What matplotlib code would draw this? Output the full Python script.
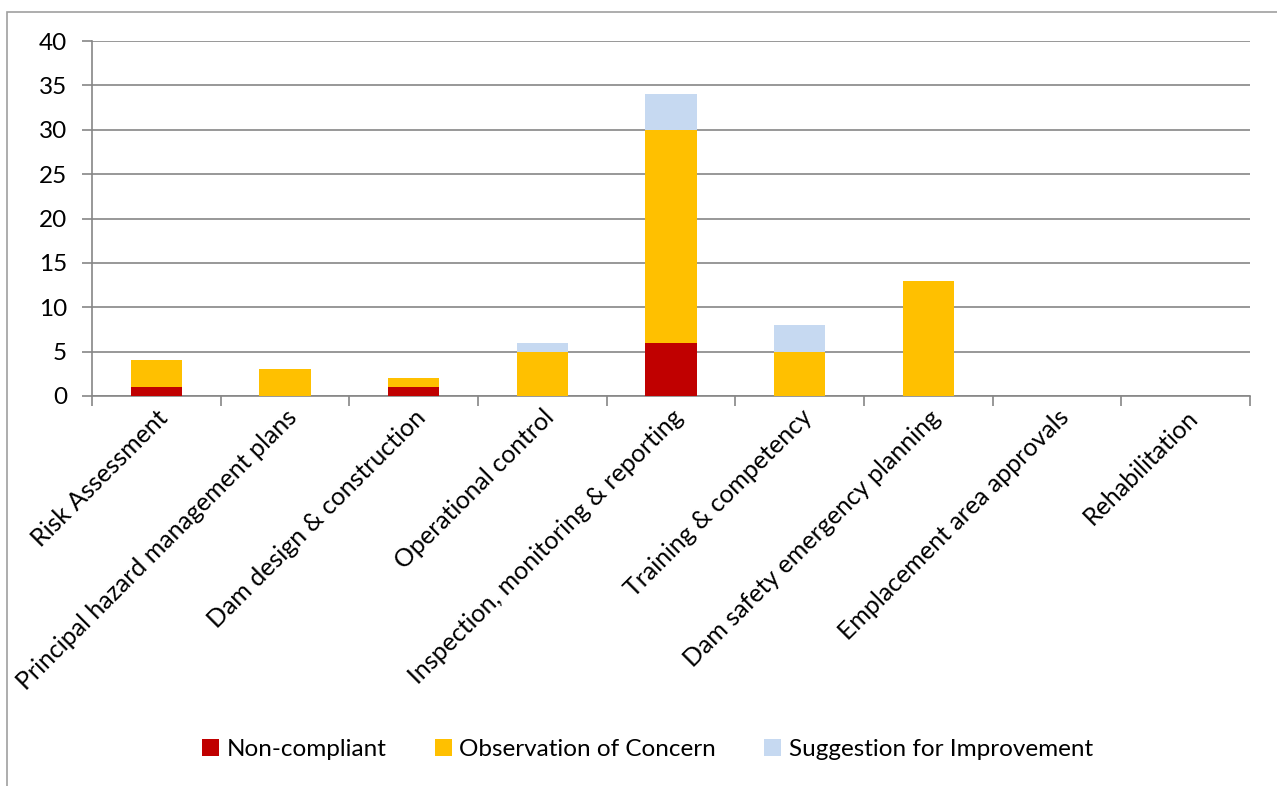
import matplotlib
matplotlib.use('Agg')
import matplotlib.pyplot as plt
import numpy as np
from matplotlib.patches import Rectangle

# data
categories = ['Risk Assessment', 'Principal hazard management plans',
              'Dam design & construction', 'Operational control',
              'Inspection, monitoring & reporting', 'Training & competency',
              'Dam safety emergency planning', 'Emplacement area approvals',
              'Rehabilitation']
non_compliant = [1, 0, 1, 0, 6, 0, 0, 0, 0]
observation = [3, 3, 1, 5, 24, 5, 13, 0, 0]
suggestion = [0, 0, 0, 1, 4, 3, 0, 0, 0]
series_names = ['Non-compliant', 'Observation of Concern', 'Suggestion for Improvement']
colors = ['#C00000', '#FFC000', '#C6D9F1']

plt.rcParams['font.family'] = ['Lato', 'DejaVu Sans']
grid_col = '#868686'

fig = plt.figure(figsize=(12.77, 7.86), dpi=100)
ax = fig.add_axes([0.072, 0.4962, 0.907, 0.4516])

# outer frame (chart area border, cut off right/bottom)
fig.patches.append(Rectangle((7 / 1277, -0.1), 1.2, (786 - 12) / 786 + 0.1,
                             transform=fig.transFigure, fill=False,
                             edgecolor='#A0A0A0', linewidth=1.2))

x = np.arange(len(categories))
bottom2 = np.array(non_compliant)
bottom3 = bottom2 + np.array(observation)
ax.bar(x, non_compliant, width=0.4, color=colors[0], label=series_names[0], zorder=3)
ax.bar(x, observation, width=0.4, bottom=bottom2, color=colors[1], label=series_names[1], zorder=3)
ax.bar(x, suggestion, width=0.4, bottom=bottom3, color=colors[2], label=series_names[2], zorder=3)

ax.set_xlim(-0.5, len(categories) - 0.5)
ax.set_ylim(0, 40)
ax.set_yticks(range(0, 41, 5))
ax.yaxis.grid(True, color=grid_col, linewidth=1.2, zorder=0)
ax.set_axisbelow(True)

for s in ['top', 'right']:
    ax.spines[s].set_visible(False)
for s in ['left', 'bottom']:
    ax.spines[s].set_color(grid_col)
    ax.spines[s].set_linewidth(1.2)

ax.tick_params(axis='y', length=7, width=1.2, color=grid_col, labelsize=17.5, pad=11)
# ticks at category boundaries
ax.set_xticks(np.arange(-0.5, len(categories), 1.0))
ax.set_xticklabels([])
ax.tick_params(axis='x', which='major', length=7, width=1.2, color=grid_col)
ax.set_xticks(x, minor=True)
ax.set_xticklabels(categories, minor=True, rotation=45, ha='right',
                   rotation_mode='anchor', fontsize=18)
ax.tick_params(axis='x', which='minor', length=0, pad=7)

handles, labels = ax.get_legend_handles_labels()
fig.legend(handles, labels, loc='center', bbox_to_anchor=(0.507, 0.046), ncol=3,
           frameon=False, fontsize=17.5, handlelength=0.7, handleheight=0.7,
           handletextpad=0.3, columnspacing=2.0)

fig.savefig('out.png', dpi=100)
